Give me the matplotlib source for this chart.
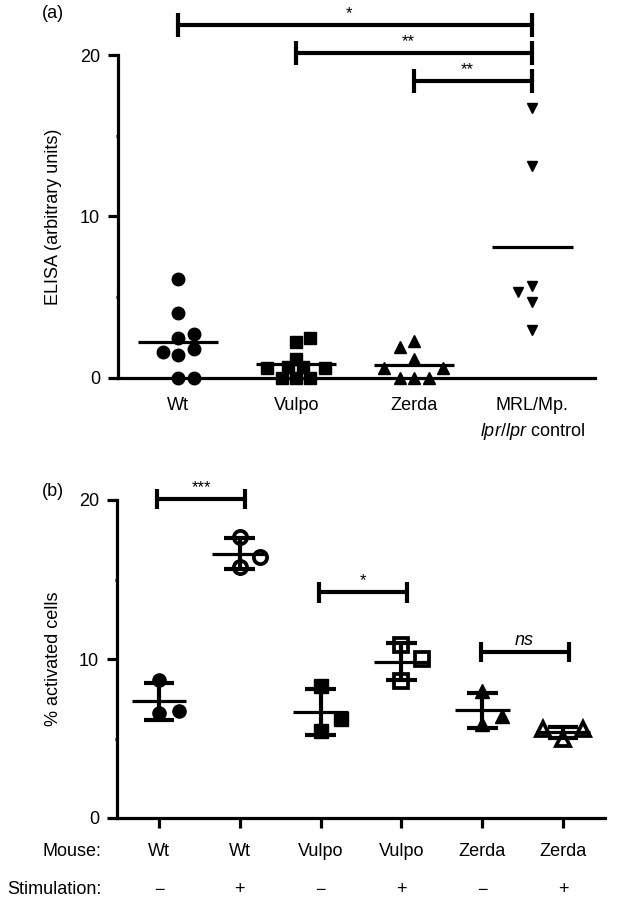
import numpy as np
import matplotlib
matplotlib.use('Agg')
import matplotlib.pyplot as plt
import matplotlib.transforms as mtransforms

plt.rcParams['font.family'] = ['Liberation Sans', 'DejaVu Sans']
plt.rcParams['font.size'] = 13
plt.rcParams['mathtext.fontset'] = 'custom'
plt.rcParams['mathtext.rm'] = 'Liberation Sans'
plt.rcParams['mathtext.it'] = 'Liberation Sans:italic'

# ---- data, panel (a): ELISA
elisa_groups = ['Wt', 'Vulpo', 'Zerda', 'MRL/Mp.\n$\\mathit{lpr}$/$\\mathit{lpr}$ control']
elisa_wt    = [6.1, 4.0, 2.5, 2.7, 1.6, 1.4, 1.8, 0.0, 0.0]
elisa_vulpo = [2.2, 2.5, 1.2, 0.6, 0.7, 0.7, 0.6, 0.0, 0.0, 0.0]
elisa_zerda = [1.9, 2.3, 1.2, 0.6, 0.6, 0.0, 0.0, 0.0]
elisa_mrl   = [16.7, 13.1, 5.7, 4.7, 3.0, 5.3]
elisa_sig   = [(0, 3, '*'), (1, 3, '**'), (2, 3, '**')]

# ---- data, panel (b): activated cells
act_mouse = ['Wt', 'Wt', 'Vulpo', 'Vulpo', 'Zerda', 'Zerda']
act_stim  = ['\u2212', '+', '\u2212', '+', '\u2212', '+']
act_wt_neg    = [8.7, 6.6, 6.7]
act_wt_pos    = [17.7, 15.8, 16.4]
act_vulpo_neg = [8.3, 5.5, 6.2]
act_vulpo_pos = [10.9, 8.6, 10.0]
act_zerda_neg = [8.0, 5.9, 6.4]
act_zerda_pos = [5.6, 5.0, 5.6]
act_sig = [(0, 1, '***'), (2, 3, '*'), (4, 5, 'ns')]

# horizontal scatter of the points inside a column (category units)
jit_a = [[0, 0, 0, 0.13, -0.13, 0, 0.13, 0, 0.13],
         [0, 0.12, 0, -0.25, -0.07, 0.06, 0.24, -0.12, 0, 0.12],
         [-0.12, 0, 0, -0.26, 0.24, -0.12, 0, 0.12],
         [0, 0, 0, 0, 0, -0.12]]
jit_b = [[0, 0, 0.25]] * 5 + [[-0.25, 0, 0.25]]

W, H = 617, 900
fig = plt.figure(figsize=(W / 100., H / 100.), dpi=100)

def style_axes(ax):
    for s in ('top', 'right'):
        ax.spines[s].set_visible(False)
    for s in ('left', 'bottom'):
        ax.spines[s].set_linewidth(2.3)
    ax.set_ylim(0, 20)
    ax.set_yticks([0, 10, 20])
    ax.set_yticks([5, 15], minor=True)
    ax.tick_params(axis='y', which='major', length=7, width=2.3, pad=6, labelsize=13)
    ax.tick_params(axis='y', which='minor', length=1.5, width=2.3)

def stars(ax, lab, x, y, **kw):
    ax.annotate(lab, xy=(x, y), xytext=(0, 5), textcoords='offset points',
                ha='center', va='baseline', annotation_clip=False, **kw)

# ================= panel (a)
ax = fig.add_axes([118. / W, 1 - 378. / H, (595 - 118.) / W, (378 - 55.) / H])
style_axes(ax)
ax.set_xlim(-0.51, 3.53)

markers = ['o', 's', '^', 'v']
sizes = [9, 9, 8.5, 7.5]
for i, vals in enumerate([elisa_wt, elisa_vulpo, elisa_zerda, elisa_mrl]):
    x = i + np.array(jit_a[i])
    ax.plot(x, vals, linestyle='none', marker=markers[i], ms=sizes[i], color='k', clip_on=False, zorder=3)
    m = np.mean(vals)
    ax.plot([i - 0.34, i + 0.34], [m, m], color='k', lw=2.3, solid_capstyle='butt', zorder=4)

ax.set_xticks(range(4))
ax.set_xticklabels(elisa_groups)
ax.tick_params(axis='x', length=0, pad=14, labelsize=13)
ax.get_xticklabels()[3].set_linespacing(1.45)
ax.set_ylabel('ELISA (arbitrary units)', fontsize=13)
ax.yaxis.set_label_coords(-0.118, 0.5)

# significance brackets above
sig_y = [21.86, 20.12, 18.39]
for (i, j, lab), y in zip(elisa_sig, sig_y):
    ax.plot([i, j], [y, y], color='k', lw=3, clip_on=False, solid_capstyle='butt')
    for xx in (i, j):
        ax.plot([xx, xx], [y - 0.74, y + 0.74], color='k', lw=3, clip_on=False, solid_capstyle='butt')
    stars(ax, lab, (i + j) / 2. - 0.05, y, fontsize=12)

fig.text(42. / W, 1 - 13. / H, '(a)', va='center', ha='left', fontsize=13)

# ================= panel (b)
ax = fig.add_axes([117. / W, 1 - 818. / H, (605 - 117.) / W, (818 - 500.) / H])
style_axes(ax)
ax.set_xlim(-0.52, 5.52)
ax.set_xticks(range(6))
ax.set_xticklabels([''] * 6)
ax.tick_params(axis='x', length=7, width=2.3, direction='out')

groups_b = [act_wt_neg, act_wt_pos, act_vulpo_neg, act_vulpo_pos, act_zerda_neg, act_zerda_pos]
mk_b = ['o', 'o', 's', 's', '^', '^']
for i, vals in enumerate(groups_b):
    x = i + np.array(jit_b[i])
    if act_stim[i] == '+':
        ax.plot(x, vals, linestyle='none', marker=mk_b[i], ms=9.5, mfc='white', mec='k', mew=2.7,
                clip_on=False, zorder=3)
    else:
        ax.plot(x, vals, linestyle='none', marker=mk_b[i], ms=9.5, color='k', clip_on=False, zorder=3)
    m = np.mean(vals)
    sd = np.std(vals, ddof=1)
    ax.plot([i, i], [m - sd, m + sd], color='k', lw=3, zorder=4, solid_capstyle='butt')
    for yy in (m - sd, m + sd):
        ax.plot([i - 0.19, i + 0.19], [yy, yy], color='k', lw=3, zorder=4, solid_capstyle='butt')
    ax.plot([i - 0.34, i + 0.34], [m, m], color='k', lw=2.3, zorder=4, solid_capstyle='butt')

sig_y = [20.06, 14.2, 10.45]
for (i, j, lab), y in zip(act_sig, sig_y):
    x0, x1 = i - 0.02, j + 0.07
    ax.plot([x0, x1], [y, y], color='k', lw=3, clip_on=False, solid_capstyle='butt')
    for xx in (x0, x1):
        ax.plot([xx, xx], [y - 0.65, y + 0.65], color='k', lw=3, clip_on=False, solid_capstyle='butt')
    if lab == 'ns':
        stars(ax, lab, (x0 + x1) / 2., y, fontsize=13, style='italic')
    else:
        stars(ax, lab, (x0 + x1) / 2., y, fontsize=12)

ax.set_ylabel('% activated cells', fontsize=13)
ax.yaxis.set_label_coords(-0.113, 0.5)

# two label rows under the axis
tr = mtransforms.blended_transform_factory(ax.transData, fig.transFigure)
for i in range(6):
    ax.text(i, 1 - 852. / H, act_mouse[i], transform=tr, ha='center', va='center', fontsize=13)
    ax.text(i, 1 - 890. / H, act_stim[i], transform=tr, ha='center', va='center', fontsize=13)
fig.text(101. / W, 1 - 852. / H, 'Mouse:', ha='right', va='center', fontsize=13)
fig.text(101. / W, 1 - 890. / H, 'Stimulation:', ha='right', va='center', fontsize=13)

fig.text(42. / W, 1 - 492. / H, '(b)', va='center', ha='left', fontsize=13)

fig.savefig('out.png', dpi=100, facecolor='w')
plt.close(fig)
